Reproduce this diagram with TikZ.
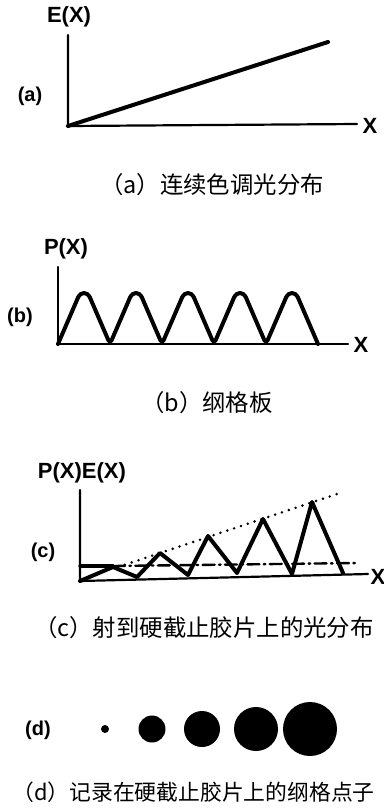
\documentclass[tikz,border=0pt]{standalone}
\usepackage{fontspec}
\newfontfamily\cjk{Noto Sans CJK SC}
\newfontfamily\labfont{Liberation Sans}

\tikzset{
    axis/.style={line width=1.1pt},
    curve/.style={line width=2pt},
    lab/.style={font=\labfont\bfseries\fontsize{11}{13}\selectfont, inner sep=0pt},
    tag/.style={font=\labfont\bfseries\fontsize{10}{12}\selectfont, inner sep=0pt},
    captext/.style={font=\cjk\fontsize{11.7}{14}\selectfont, inner sep=0pt},
    dotnode/.style={circle, fill=black, inner sep=0pt},
}

\begin{document}
\begin{tikzpicture}[x=0.5pt, y=-0.5pt, line cap=round, line join=round]
    \useasboundingbox (0,0) rectangle (384,810);

    % (a) 连续色调
    \coordinate (Oa) at (68,126);
    \draw[axis] (68,35) -- (Oa) -- (357,124);
    \node[lab] (Xa) at (370,126) {X};
    \node[lab] (Ea) at (69,17) {E(X)};
    \node[tag] (ta) at (30,96) {(a)};
    \draw[curve] (Oa) -- (328,42);
    \node[captext] (ca) at (212,185) {（a）连续色调光分布};

    % (b) 纲格板
    \coordinate (Ob) at (58,344);
    \draw[axis] (58,267) -- (Ob) -- (348,344);
    \node[lab] (Xb) at (361,345) {X};
    \node[lab] (Pb) at (66,249) {P(X)};
    \node[tag] (tb) at (20,317) {(b)};
    \draw[curve, rounded corners=2pt] (Ob)
        foreach \i in {0,...,4} {
            -- ({80+52*\i},293) -- ({88+52*\i},293) -- ({110+52*\i},344)
        };
    \node[captext] (cb) at (207,403) {（b）纲格板};

    % (c) 光分布
    \coordinate (Oc) at (80,581);
    \draw[axis] (80,490) -- (Oc) -- (368,574);
    \node[lab] (Xc) at (378,577) {X};
    \node[lab] (Pc) at (82,473) {P(X)E(X)};
    \node[tag] (tc) at (43,552) {(c)};
    \draw[line width=1.4pt, dash pattern=on 0pt off 3.6pt] (118,567) -- (343,492);
    \draw[line width=1.6pt] (80,566) -- (113,566);
    \draw[line width=1.2pt, dash pattern=on 6pt off 2.2pt on 0.8pt off 2.2pt] (113,566) -- (358,563);
    \draw[curve] (Oc) -- (113,567) -- (137,577) -- (160,553) -- (188,575)
        -- (208,536) -- (237,573) -- (263,519) -- (292,574) -- (312,502) -- (343,573);
    \node[captext] (cc) at (204,628) {（c）射到硬截止胶片上的光分布};

    % (d) 网点
    \node[tag] (td) at (38,730) {(d)};
    \foreach \x/\r [count=\k] in {105/4,152/13.5,202/18,256/22,310/27}
        \node[dotnode, minimum size=\r pt] (dot\k) at (\x,729) {};
    \node[captext, font=\cjk\fontsize{10.9}{13}\selectfont, anchor=west] (cd) at (12,792) {（d）记录在硬截止胶片上的纲格点子};
\end{tikzpicture}
\end{document}
